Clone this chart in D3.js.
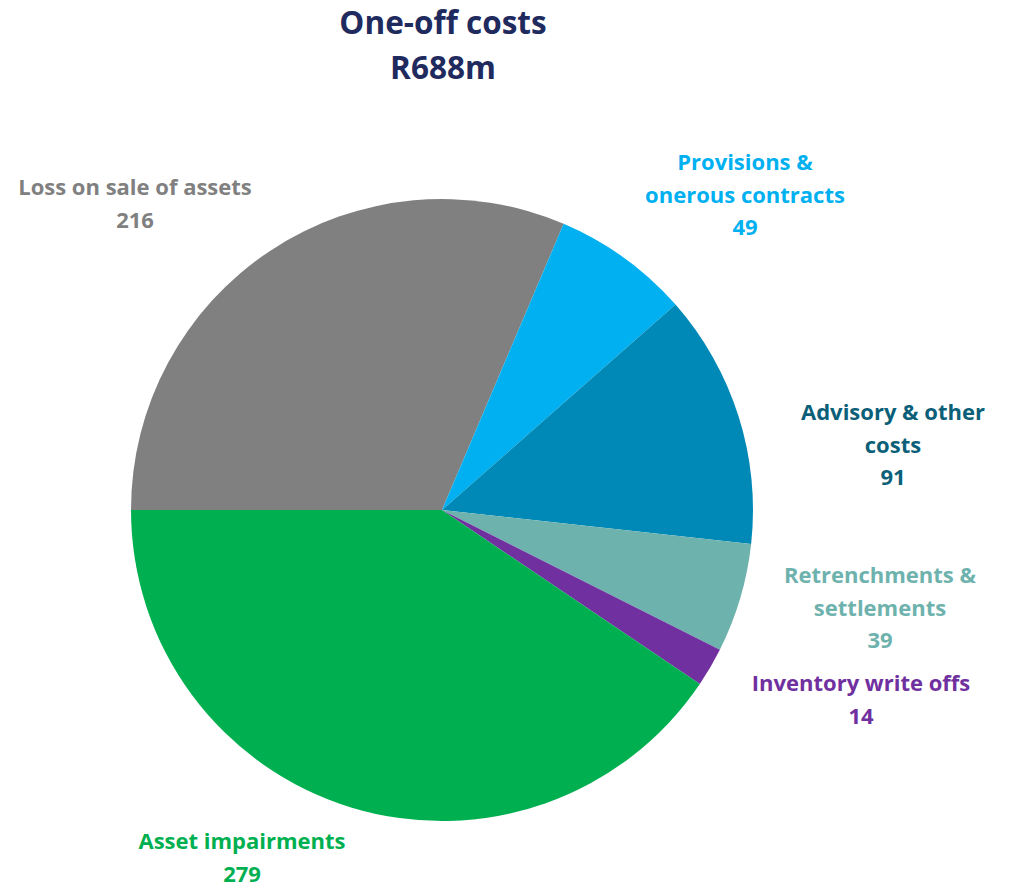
<!DOCTYPE html>
<html>
<head>
<meta charset="utf-8">
<script src="https://cdn.jsdelivr.net/npm/d3@7"></script>
<style>
  html, body { margin: 0; padding: 0; background: #ffffff; }
  svg { display: block; font-family: "Open Sans", Lato, sans-serif; font-weight: 700; }
</style>
</head>
<body>
<svg id="chart" width="1018" height="886"></svg>
<script>
// One-off costs breakdown (R million)
const categories = [
  "Loss on sale of assets",
  "Provisions & onerous contracts",
  "Advisory & other costs",
  "Retrenchments & settlements",
  "Inventory write offs",
  "Asset impairments"
];
const values = [216, 49, 91, 39, 14, 279];
const sliceColors = ["#808080", "#00B0F0", "#0089B7", "#6EB2AE", "#7030A0", "#00B050"];
const labelColors = ["#808080", "#00B0F0", "#0B5F78", "#6EB2AE", "#7030A0", "#00B050"];
// label text split into lines
const labelLines = [
  ["Loss on sale of assets"],
  ["Provisions &", "onerous contracts"],
  ["Advisory & other", "costs"],
  ["Retrenchments &", "settlements"],
  ["Inventory write offs"],
  ["Asset impairments"]
];
const titleLines = ["One-off costs", "R688m"];

const svg = d3.select("#chart");
const cx = 442, cy = 510, radius = 311;

// label anchor (centre x, first baseline y)
const labelPos = [
  [135, 195], [745, 170], [893, 420], [880, 583], [861, 691], [242, 849]
];

const data = categories.map((c, i) => ({ name: c, value: values[i], i }));

const pie = d3.pie()
  .value(d => d.value)
  .sort(null)
  .startAngle(-Math.PI / 2)
  .endAngle(Math.PI * 1.5);

const arc = d3.arc().innerRadius(0).outerRadius(radius);

const g = svg.append("g").attr("transform", `translate(${cx},${cy})`);
g.selectAll("path")
  .data(pie(data))
  .join("path")
  .attr("d", arc)
  .attr("fill", d => sliceColors[d.data.i])
  .attr("stroke", "none");

// title
svg.append("text")
  .attr("text-anchor", "middle")
  .attr("fill", "#1F2A5E")
  .attr("font-size", 31.5)
  .selectAll("tspan")
  .data(titleLines)
  .join("tspan")
  .attr("x", 443)
  .attr("y", (d, i) => 34 + i * 45)
  .text(d => d);

// category labels with values
const lineH = 32.5;
data.forEach(d => {
  const [lx, ly] = labelPos[d.i];
  const lines = labelLines[d.i].concat([String(d.value)]);
  svg.append("text")
    .attr("text-anchor", "middle")
    .attr("fill", labelColors[d.i])
    .attr("font-size", 22)
    .selectAll("tspan")
    .data(lines)
    .join("tspan")
    .attr("x", lx)
    .attr("y", (t, k) => ly + k * lineH)
    .text(t => t);
});
</script>
</body>
</html>
